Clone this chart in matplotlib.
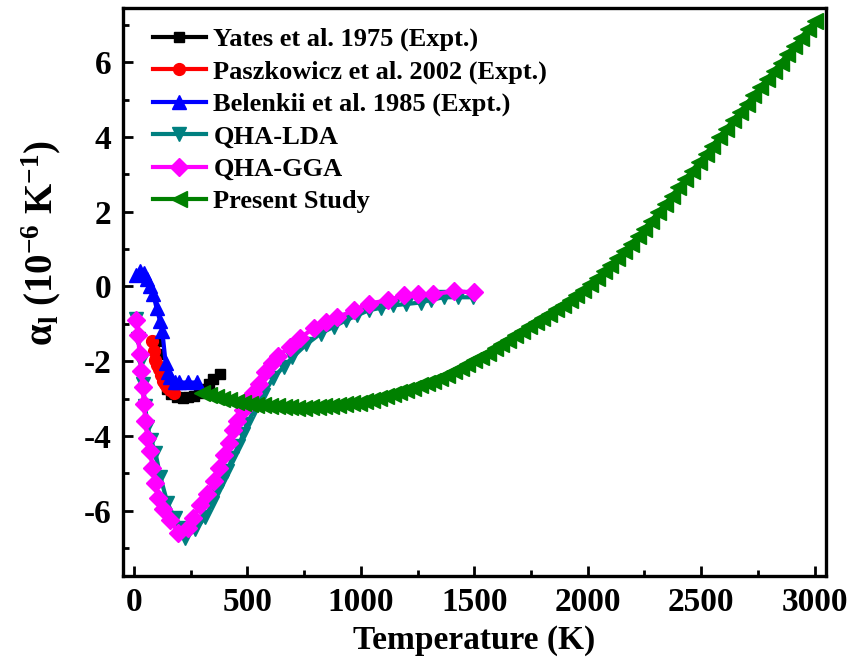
import matplotlib
matplotlib.use("Agg")
import matplotlib.pyplot as plt
from matplotlib.ticker import MultipleLocator

plt.rcParams['font.family'] = ['Liberation Serif', 'DejaVu Serif']
plt.rcParams['font.weight'] = 'bold'
plt.rcParams['mathtext.default'] = 'regular'
plt.rcParams['axes.unicode_minus'] = False

# Yates et al. 1975 (Expt.)
yates_T = [100, 110, 120, 130, 145, 165, 190, 215, 240, 265, 285, 305, 330, 350, 380]
yates_a = [-1.45, -1.80, -2.15, -2.45, -2.75, -2.88, -2.95, -2.98, -2.97, -2.92, -2.84, -2.75, -2.62, -2.48, -2.33]

# Paszkowicz et al. 2002 (Expt.)
pasz_T = [80, 88, 95, 102, 110, 118, 128, 138, 148, 160, 175]
pasz_a = [-1.45, -1.72, -1.98, -2.10, -2.22, -2.38, -2.52, -2.62, -2.70, -2.78, -2.84]

# Belenkii et al. 1985 (Expt.)
bel_T = [10, 28, 45, 60, 72, 85, 100, 115, 125, 140, 150, 160, 180, 200, 240, 280]
bel_a = [0.30, 0.42, 0.36, 0.20, 0.02, -0.20, -0.58, -0.92, -1.18, -2.05, -2.28, -2.42, -2.55, -2.57, -2.57, -2.57]

# QHA-LDA
lda_T = [10, 20, 30, 40, 50, 60, 75, 95, 117, 148, 180, 205, 227, 270, 315, 345, 368, 390, 412,
         434, 461, 483, 500, 530, 570, 615, 660, 699, 760, 823, 880, 933, 985, 1034, 1090, 1140,
         1200, 1264, 1310, 1365, 1430, 1493]
lda_a = [-0.86, -1.40, -2.00, -2.60, -3.20, -3.75, -4.10, -4.45, -5.10, -5.80, -6.20, -6.45, -6.72,
         -6.50, -6.18, -5.80, -5.46, -5.20, -4.93, -4.58, -4.26, -3.94, -3.67, -3.30, -2.90, -2.44,
         -2.15, -1.90, -1.55, -1.26, -1.08, -0.91, -0.77, -0.64, -0.57, -0.51, -0.47, -0.43, -0.36,
         -0.29, -0.29, -0.29]

# QHA-GGA
gga_T = [10, 18, 25, 32, 38, 44, 51, 60, 73, 82, 95, 108, 130, 161, 196, 240, 262, 293, 324, 351,
         373, 395, 417, 439, 456, 483, 505, 527, 550, 580, 610, 637, 690, 734, 792, 845, 897, 968,
         1034, 1118, 1189, 1250, 1317, 1410, 1500]
gga_a = [-0.90, -1.30, -1.80, -2.25, -2.70, -3.15, -3.60, -4.05, -4.40, -4.85, -5.25, -5.65, -5.95,
         -6.25, -6.60, -6.45, -6.20, -5.85, -5.55, -5.20, -4.85, -4.50, -4.20, -3.85, -3.60, -3.30,
         -3.05, -2.85, -2.60, -2.30, -2.05, -1.85, -1.62, -1.37, -1.12, -0.96, -0.83, -0.64, -0.46,
         -0.37, -0.24, -0.21, -0.21, -0.13, -0.16]

# Present Study
ps_T = list(range(300, 3001, 30))
ps_a = [-2.86, -2.91, -2.96, -3.01, -3.05, -3.08, -3.11, -3.14, -3.16, -3.18,
        -3.20, -3.21, -3.22, -3.23, -3.24, -3.24, -3.23, -3.22, -3.21, -3.19,
        -3.17, -3.15, -3.13, -3.11, -3.07, -3.03, -2.98, -2.93, -2.88, -2.82,
        -2.77, -2.71, -2.65, -2.59, -2.52, -2.44, -2.36, -2.27, -2.18, -2.08,
        -1.98, -1.88, -1.77, -1.66, -1.54, -1.42, -1.30, -1.18, -1.07, -0.96,
        -0.85, -0.73, -0.61, -0.49, -0.36, -0.23, -0.09, 0.06, 0.23, 0.40,
        0.58, 0.76, 0.95, 1.14, 1.34, 1.55, 1.76, 1.98, 2.20, 2.42,
        2.65, 2.87, 3.10, 3.32, 3.55, 3.77, 4.00, 4.22, 4.44, 4.67,
        4.89, 5.11, 5.33, 5.55, 5.77, 5.99, 6.21, 6.44, 6.66, 6.88, 7.10]

fig = plt.figure(figsize=(8.48, 6.66), dpi=100)
ax = fig.add_axes([0.1445, 0.135, 0.8295, 0.853])

lw = 3
ax.plot(yates_T, yates_a, '-s', color='black', lw=lw, ms=7.5, label='Yates et al. 1975 (Expt.)')
ax.plot(pasz_T, pasz_a, '-o', color='red', lw=lw, ms=8.5, label='Paszkowicz et al. 2002 (Expt.)')
ax.plot(bel_T, bel_a, '-^', color='blue', lw=lw, ms=10, label='Belenkii et al. 1985 (Expt.)')
ax.plot(lda_T, lda_a, '-v', color='#008080', lw=lw, ms=10, label='QHA-LDA')
ax.plot(gga_T, gga_a, '-D', color='magenta', lw=lw, ms=9, label='QHA-GGA')
ax.plot(ps_T, ps_a, '-<', color='green', lw=lw, ms=11, label='Present Study')

ax.set_xlim(-50, 3050)
ax.set_ylim(-7.75, 7.45)
ax.xaxis.set_major_locator(MultipleLocator(500))
ax.xaxis.set_minor_locator(MultipleLocator(250))
ax.yaxis.set_major_locator(MultipleLocator(2))
ax.yaxis.set_minor_locator(MultipleLocator(1))
ax.tick_params(which='both', direction='in', width=2, labelsize=24)
ax.tick_params(which='major', length=7, pad=8)
ax.tick_params(which='minor', length=4)
for lab in ax.get_xticklabels() + ax.get_yticklabels():
    lab.set_fontweight('bold')
for s in ax.spines.values():
    s.set_linewidth(2.4)

ax.set_xlabel('Temperature (K)', fontsize=24, fontweight='bold', labelpad=5)
ax.set_ylabel(r'α$_{l}$ (10$^{-6}$ K$^{-1}$)', fontsize=28, fontweight='bold')
ax.yaxis.set_label_coords(-0.085, 0.586)

ax.legend(loc='upper left', bbox_to_anchor=(0.043, 0.966), frameon=False, borderaxespad=0,
          borderpad=0, handlelength=2.0, handletextpad=0.3, labelspacing=0.33,
          prop={'weight': 'bold', 'size': 19})

fig.savefig('out.png', dpi=100)
